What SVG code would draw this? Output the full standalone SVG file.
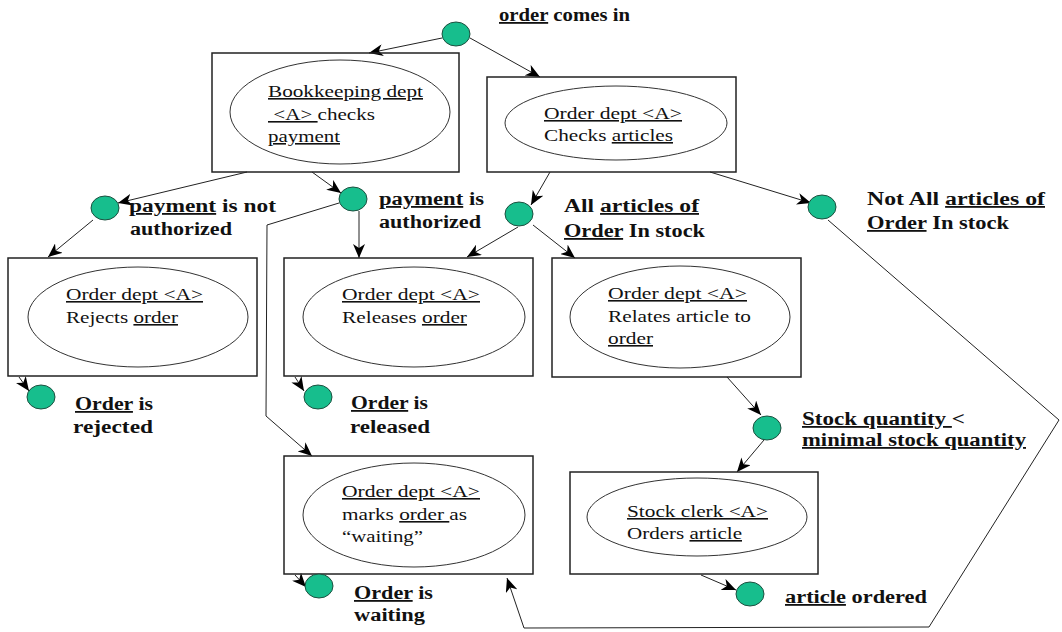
<svg xmlns="http://www.w3.org/2000/svg" width="1062" height="632" viewBox="0 0 1062 632" font-family="Liberation Serif, Times New Roman, Times, DejaVu Serif, serif">
<style>
.box{fill:none;stroke:#222;stroke-width:1.5}
.ell{fill:none;stroke:#333;stroke-width:1}
.ev{fill:#17BE8D;stroke:#1d4f3f;stroke-width:1}
.c{fill:none;stroke:#222;stroke-width:1;marker-end:url(#ah)}
text{fill:#111;white-space:pre}
.t{font-size:16px}
.b{font-size:18px;font-weight:bold}
.u{text-decoration:underline}
</style>
<defs>
<marker id="ah" markerUnits="userSpaceOnUse" markerWidth="16" markerHeight="12" refX="14" refY="6" orient="auto">
<path d="M0,0 L14,6 L0,12 L4,6 z" fill="#000"/>
</marker>
</defs>
<rect width="1062" height="632" fill="#fff"/>

<g id="connectors">
<line class="c" x1="442" y1="38" x2="369" y2="53"/>
<line class="c" x1="470" y1="38" x2="540" y2="77"/>
<line class="c" x1="247" y1="172" x2="118" y2="203"/>
<line class="c" x1="312" y1="172" x2="341" y2="193"/>
<line class="c" x1="93" y1="220" x2="48" y2="257"/>
<line class="c" x1="359" y1="211" x2="359" y2="258"/>
<polyline class="c" points="339,203 267,225 266,416 312,456"/>
<line class="c" x1="550" y1="172" x2="531" y2="205"/>
<line class="c" x1="518" y1="227" x2="467" y2="257"/>
<line class="c" x1="533" y1="225" x2="575" y2="258"/>
<line class="c" x1="710" y1="172" x2="811" y2="203"/>
<polyline class="c" points="828,220 1059,420 929,627 524,628 507,578"/>
<line class="c" x1="19" y1="377" x2="29" y2="391"/>
<line class="c" x1="295" y1="377" x2="304" y2="391"/>
<line class="c" x1="295" y1="575" x2="306" y2="587"/>
<line class="c" x1="727" y1="377" x2="761" y2="415"/>
<line class="c" x1="764" y1="440" x2="737" y2="472"/>
<line class="c" x1="701" y1="575" x2="736" y2="590"/>
</g>

<g id="ev-order-comes-in">
<ellipse class="ev" cx="456" cy="34" rx="14" ry="12"/>
<text class="b" x="499" y="21" textLength="131" lengthAdjust="spacingAndGlyphs"><tspan class="u">order</tspan> comes in</text>
</g>

<g id="act-bookkeeping">
<rect class="box" x="212" y="53" width="247" height="119"/>
<ellipse class="ell" cx="340" cy="112" rx="110" ry="52"/>
<text class="t" x="268" y="97" textLength="155" lengthAdjust="spacingAndGlyphs"><tspan class="u">Bookkeeping dept</tspan></text>
<text class="t" x="268" y="120" textLength="107" lengthAdjust="spacingAndGlyphs"><tspan class="u"> &lt;A&gt; </tspan>checks</text>
<text class="t" x="268" y="142" textLength="72" lengthAdjust="spacingAndGlyphs"><tspan class="u">payment</tspan></text>
</g>

<g id="act-checks-articles">
<rect class="box" x="487" y="77" width="249" height="95"/>
<ellipse class="ell" cx="616" cy="123" rx="111" ry="37"/>
<text class="t" x="544" y="119" textLength="138" lengthAdjust="spacingAndGlyphs"><tspan class="u">Order dept &lt;A&gt;</tspan></text>
<text class="t" x="544" y="141" textLength="129" lengthAdjust="spacingAndGlyphs">Checks <tspan class="u">articles</tspan></text>
</g>

<g id="ev-not-authorized">
<ellipse class="ev" cx="105" cy="208" rx="14" ry="12"/>
<text class="b" x="129" y="212" textLength="147" lengthAdjust="spacingAndGlyphs"><tspan class="u">payment</tspan> is not</text>
<text class="b" x="130" y="235" textLength="102" lengthAdjust="spacingAndGlyphs">authorized</text>
</g>

<g id="ev-authorized">
<ellipse class="ev" cx="353" cy="199" rx="14" ry="12"/>
<text class="b" x="379" y="205" textLength="105" lengthAdjust="spacingAndGlyphs"><tspan class="u">payment</tspan> is</text>
<text class="b" x="379" y="228" textLength="102" lengthAdjust="spacingAndGlyphs">authorized</text>
</g>

<g id="ev-all-in-stock">
<ellipse class="ev" cx="519" cy="214" rx="14" ry="12"/>
<text class="b" x="564" y="212" textLength="135" lengthAdjust="spacingAndGlyphs">All <tspan class="u">articles of</tspan></text>
<text class="b" x="564" y="237" textLength="141" lengthAdjust="spacingAndGlyphs"><tspan class="u">Order</tspan> In stock</text>
</g>

<g id="ev-not-all-in-stock">
<ellipse class="ev" cx="822" cy="207" rx="14" ry="12"/>
<text class="b" x="867" y="205" textLength="178" lengthAdjust="spacingAndGlyphs">Not All <tspan class="u">articles of</tspan></text>
<text class="b" x="867" y="229" textLength="142" lengthAdjust="spacingAndGlyphs"><tspan class="u">Order</tspan> In stock</text>
</g>

<g id="act-rejects">
<rect class="box" x="8" y="258" width="249" height="118"/>
<ellipse class="ell" cx="138" cy="317" rx="110" ry="50"/>
<text class="t" x="66" y="300" textLength="137" lengthAdjust="spacingAndGlyphs"><tspan class="u">Order dept &lt;A&gt;</tspan></text>
<text class="t" x="66" y="323" textLength="112" lengthAdjust="spacingAndGlyphs">Rejects <tspan class="u">order</tspan></text>
</g>

<g id="act-releases">
<rect class="box" x="284" y="258" width="249" height="118"/>
<ellipse class="ell" cx="414" cy="317" rx="111" ry="50"/>
<text class="t" x="342" y="300" textLength="138" lengthAdjust="spacingAndGlyphs"><tspan class="u">Order dept &lt;A&gt;</tspan></text>
<text class="t" x="342" y="323" textLength="125" lengthAdjust="spacingAndGlyphs">Releases <tspan class="u">order</tspan></text>
</g>

<g id="act-relates">
<rect class="box" x="552" y="258" width="249" height="119"/>
<ellipse class="ell" cx="680" cy="317" rx="110" ry="51"/>
<text class="t" x="608" y="299" textLength="139" lengthAdjust="spacingAndGlyphs"><tspan class="u">Order dept &lt;A&gt;</tspan></text>
<text class="t" x="608" y="322" textLength="143" lengthAdjust="spacingAndGlyphs">Relates article to</text>
<text class="t" x="608" y="344" textLength="45" lengthAdjust="spacingAndGlyphs"><tspan class="u">order</tspan></text>
</g>

<g id="ev-rejected">
<ellipse class="ev" cx="41" cy="397" rx="14" ry="12"/>
<text class="b" x="75" y="410" textLength="78" lengthAdjust="spacingAndGlyphs"><tspan class="u">Order</tspan> is</text>
<text class="b" x="73" y="433" textLength="80" lengthAdjust="spacingAndGlyphs">rejected</text>
</g>

<g id="ev-released">
<ellipse class="ev" cx="318" cy="397" rx="14" ry="12"/>
<text class="b" x="351" y="409" textLength="77" lengthAdjust="spacingAndGlyphs"><tspan class="u">Order</tspan> is</text>
<text class="b" x="350" y="433" textLength="80" lengthAdjust="spacingAndGlyphs">released</text>
</g>

<g id="ev-stock-low">
<ellipse class="ev" cx="767" cy="428" rx="14" ry="12"/>
<text class="b" x="802" y="425" textLength="163" lengthAdjust="spacingAndGlyphs"><tspan class="u">Stock quantity </tspan>&lt;</text>
<text class="b" x="802" y="446" textLength="224" lengthAdjust="spacingAndGlyphs"><tspan class="u">minimal stock quantity</tspan></text>
</g>

<g id="act-waiting">
<rect class="box" x="284" y="456" width="249" height="118"/>
<ellipse class="ell" cx="414" cy="515" rx="111" ry="52"/>
<text class="t" x="342" y="497" textLength="138" lengthAdjust="spacingAndGlyphs"><tspan class="u">Order dept &lt;A&gt;</tspan></text>
<text class="t" x="342" y="520" textLength="125" lengthAdjust="spacingAndGlyphs">marks <tspan class="u">order </tspan>as</text>
<text class="t" x="342" y="542" textLength="81" lengthAdjust="spacingAndGlyphs">“waiting”</text>
</g>

<g id="act-stock-clerk">
<rect class="box" x="570" y="472" width="248" height="102"/>
<ellipse class="ell" cx="697" cy="517" rx="110" ry="39"/>
<text class="t" x="627" y="517" textLength="141" lengthAdjust="spacingAndGlyphs"><tspan class="u">Stock clerk &lt;A&gt;</tspan></text>
<text class="t" x="627" y="539" textLength="115" lengthAdjust="spacingAndGlyphs">Orders <tspan class="u">article</tspan></text>
</g>

<g id="ev-waiting">
<ellipse class="ev" cx="319" cy="586" rx="14" ry="12"/>
<text class="b" x="354" y="599" textLength="79" lengthAdjust="spacingAndGlyphs"><tspan class="u">Order</tspan> is</text>
<text class="b" x="354" y="621" textLength="71" lengthAdjust="spacingAndGlyphs">waiting</text>
</g>

<g id="ev-article-ordered">
<ellipse class="ev" cx="750" cy="594" rx="14" ry="12"/>
<text class="b" x="785" y="603" textLength="142" lengthAdjust="spacingAndGlyphs"><tspan class="u">article</tspan> ordered</text>
</g>
</svg>
